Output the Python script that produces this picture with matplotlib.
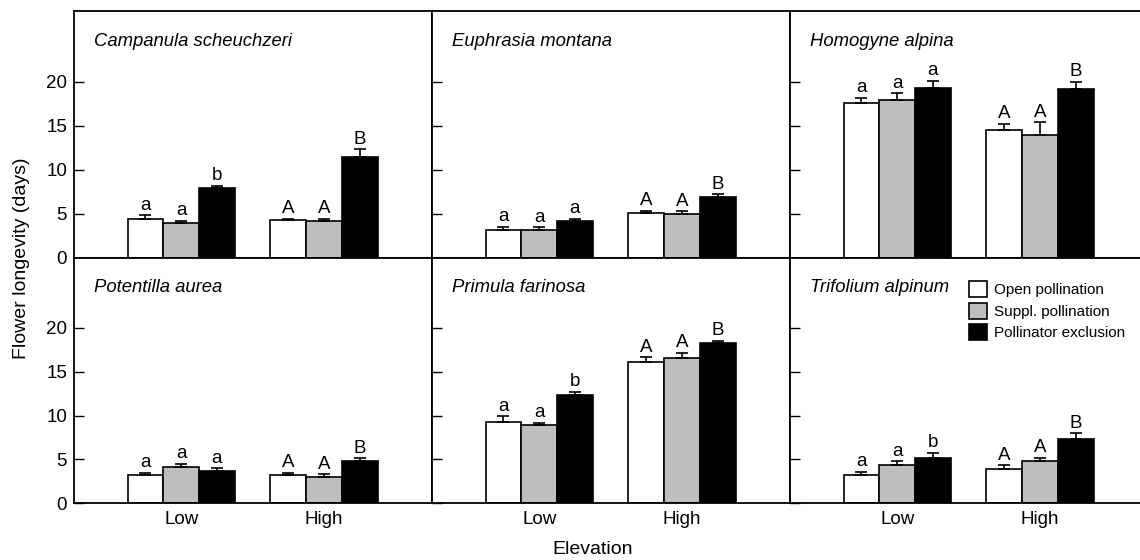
import matplotlib
matplotlib.use("Agg")
import matplotlib.pyplot as plt
import numpy as np

plt.rcParams['font.family'] = ['Liberation Sans', 'DejaVu Sans']

species = ["Campanula scheuchzeri", "Euphrasia montana", "Homogyne alpina",
           "Potentilla aurea", "Primula farinosa", "Trifolium alpinum"]
elevations = ["Low", "High"]
treatments = ["Open pollination", "Suppl. pollination", "Pollinator exclusion"]
colors = ["white", "#bebebe", "black"]

# means: [species][treatment] -> [Low, High]
open_means = [[4.45, 4.3], [3.2, 5.1], [17.6, 14.5], [3.15, 3.2], [9.3, 16.1], [3.2, 3.85]]
suppl_means = [[3.95, 4.2], [3.2, 5.0], [17.95, 13.9], [4.1, 3.0], [8.9, 16.6], [4.3, 4.85]]
excl_means = [[7.95, 11.45], [4.15, 6.9], [19.3, 19.15], [3.7, 4.75], [12.35, 18.3], [5.1, 7.3]]
# upper standard error
open_se = [[0.37, 0.15], [0.37, 0.27], [0.57, 0.72], [0.3, 0.27], [0.6, 0.57], [0.37, 0.46]]
suppl_se = [[0.27, 0.23], [0.3, 0.3], [0.72, 1.48], [0.38, 0.3], [0.3, 0.54], [0.45, 0.34]]
excl_se = [[0.25, 0.85], [0.3, 0.3], [0.8, 0.8], [0.27, 0.38], [0.34, 0.27], [0.64, 0.65]]
# significance letters
open_letters = [["a", "A"], ["a", "A"], ["a", "A"], ["a", "A"], ["a", "A"], ["a", "A"]]
suppl_letters = [["a", "A"], ["a", "A"], ["a", "A"], ["a", "A"], ["a", "A"], ["a", "A"]]
excl_letters = [["b", "B"], ["a", "B"], ["a", "B"], ["a", "B"], ["b", "B"], ["b", "B"]]

yticks = [0, 5, 10, 15, 20]

W, H = 1140, 560
fig = plt.figure(figsize=(W / 100, H / 100), dpi=100)

left_px, pw = 74, 358
row_top = [11, 258]
row_bot = [258, 503]

means_all = [open_means, suppl_means, excl_means]
se_all = [open_se, suppl_se, excl_se]
letters_all = [open_letters, suppl_letters, excl_letters]

x = np.arange(len(elevations))
bw = 0.25
offsets = [-bw, 0, bw]

axes = []
for i, sp in enumerate(species):
    r, c = divmod(i, 3)
    l = (left_px + c * pw) / W
    b = 1 - row_bot[r] / H
    h = (row_bot[r] - row_top[r]) / H
    ax = fig.add_axes([l, b, pw / W, h])
    axes.append(ax)
    for t in range(3):
        m = [means_all[t][i][k] for k in range(2)]
        e = [se_all[t][i][k] for k in range(2)]
        ax.bar(x + offsets[t], m, width=bw, color=colors[t], edgecolor="black",
               linewidth=1.2, label=treatments[t], zorder=2)
        ax.errorbar(x + offsets[t], m, yerr=[np.zeros(2), e], fmt="none",
                    ecolor="black", elinewidth=1.2, capsize=4, capthick=1.2, zorder=3)
        for k in range(2):
            ax.annotate(letters_all[t][i][k], (x[k] + offsets[t], m[k] + e[k]),
                        xytext=(0, 4), textcoords="offset points",
                        ha="center", va="baseline", fontsize=13.5)
    ax.set_xlim(-0.75, 1.756)
    ax.set_ylim(0, 28)
    ax.set_yticks(yticks)
    ax.tick_params(axis="y", direction="in", length=7.5, width=1, labelsize=13.5, pad=5)
    ax.tick_params(axis="x", length=0, labelsize=13.5, pad=6)
    ax.set_xticks(x)
    if r == 1:
        ax.set_xticklabels(elevations)
    else:
        ax.set_xticklabels([])
    if c != 0:
        ax.set_yticklabels([])
    for s in ax.spines.values():
        s.set_linewidth(1.3)
    ax.text(20 / pw, 1 - 30 / (row_bot[r] - row_top[r]), sp, transform=ax.transAxes,
            style="italic", fontsize=13.3, ha="left", va="center")

leg = axes[5].legend(loc="upper left", bbox_to_anchor=(179 / pw, 1 - 23 / 245),
                     frameon=False, fontsize=11, borderpad=0, borderaxespad=0,
                     handlelength=1.2, handleheight=1.25, handletextpad=0.45,
                     labelspacing=0.35)

fig.text(22 / W, 1 - 258 / H, "Flower longevity (days)", rotation=90,
         ha="center", va="center", fontsize=14)
fig.text(593 / W, 1 - 550 / H, "Elevation", ha="center", va="center", fontsize=14)

fig.savefig("out.png", dpi=100)
